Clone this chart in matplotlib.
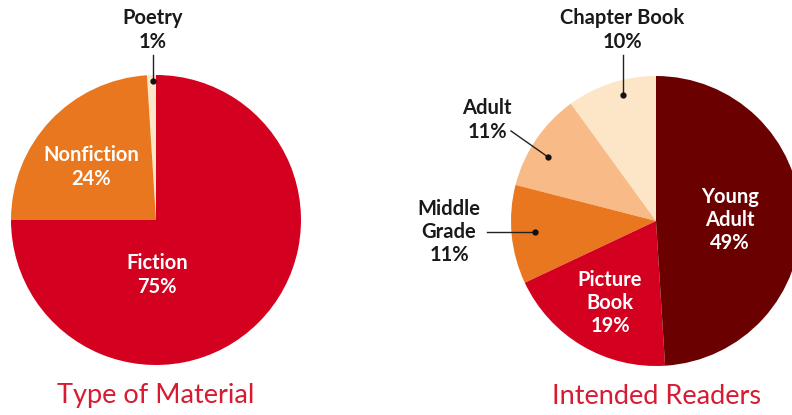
import matplotlib.pyplot as plt

# data
material_labels = ["Poetry", "Nonfiction", "Fiction"]
material_values = [1, 24, 75]
reader_labels = ["Chapter Book", "Adult", "Middle Grade", "Picture Book", "Young Adult"]
reader_values = [10, 11, 11, 19, 49]

RED = "#D3001F"
ORANGE = "#E8771F"
CREAM = "#FDE5C8"
PEACH = "#F8BA86"
MAROON = "#6B0000"
TITLE_RED = "#D61B33"

material_colors = [CREAM, ORANGE, RED]
reader_colors = [CREAM, PEACH, ORANGE, RED, MAROON]

W, H = 792, 415
FONT = "Lato"


def Y(py):
    # pixel row (top-down) -> data y (bottom-up)
    return H - py


fig = plt.figure(figsize=(W / 100, H / 100), dpi=100)
ax = fig.add_axes([0, 0, 1, 1])

ax.pie(material_values, colors=material_colors, startangle=90, counterclock=True,
       center=(156, Y(220)), radius=145, frame=True,
       wedgeprops=dict(linewidth=0))
ax.pie(reader_values, colors=reader_colors, startangle=90, counterclock=True,
       center=(656, Y(221)), radius=145, frame=True,
       wedgeprops=dict(linewidth=0))

ax.set_xlim(0, W)
ax.set_ylim(0, H)
ax.set_aspect("equal")
ax.axis("off")


def label(x, y, text, color, spacing=1.3):
    ax.text(x, Y(y), text, ha="center", va="center", fontsize=14.5,
            fontweight="bold", color=color, family=FONT, linespacing=spacing)


def leader(x0, y0, x1, y1):
    ax.plot([x0, x1], [Y(y0), Y(y1)], color="#222222", lw=1)
    ax.plot([x1], [Y(y1)], "o", color="#111111", ms=3.5)


# Type of Material
label(153, 30, "Poetry\n1%", "#1a1a1a")
leader(153, 55, 153, 81)
label(91, 167, "Nonfiction\n24%", "white")
label(157, 275, "Fiction\n75%", "white")

# Intended Readers
label(622, 30, "Chapter Book\n10%", "#1a1a1a")
leader(623, 55, 623, 95)
label(487, 120, "Adult\n11%", "#1a1a1a")
leader(511, 131, 548, 157)
label(449, 232, "Middle\nGrade\n11%", "#1a1a1a", 1.2)
leader(487, 232, 535, 232)
label(730, 220, "Young\nAdult\n49%", "white", 1.2)
label(610, 303, "Picture\nBook\n19%", "white", 1.2)

ax.text(156, Y(396), "Type of Material", ha="center", va="center",
        fontsize=19.5, color=TITLE_RED, family=FONT)
ax.text(656, Y(396), "Intended Readers", ha="center", va="center",
        fontsize=19.5, color=TITLE_RED, family=FONT)

fig.savefig("out.png", dpi=100)
